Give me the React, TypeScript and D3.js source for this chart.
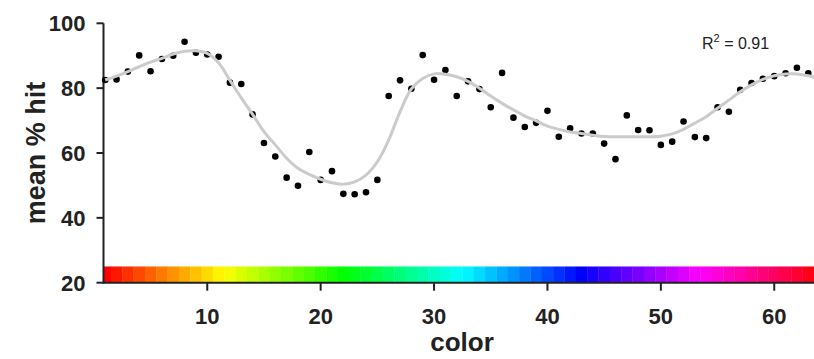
import React from 'react';
import * as d3 from 'd3';

// color index categories (1..64) shown in the hue strip
const colorIndex = [
  1, 2, 3, 4, 5, 6, 7, 8, 9, 10, 11, 12, 13, 14, 15, 16, 17, 18, 19, 20, 21, 22, 23, 24, 25, 26, 27, 28, 29, 30, 31, 32,
  33, 34, 35, 36, 37, 38, 39, 40, 41, 42, 43, 44, 45, 46, 47, 48, 49, 50, 51, 52, 53, 54, 55, 56, 57, 58, 59, 60, 61, 62, 63, 64,
];

// mean % hit per color (colors 1..63)
const hitValues = [
  82.5, 82.7, 85.1, 90.1, 85.2, 89.0, 90.0, 94.3, 90.9, 90.4, 89.7, 81.7, 81.3, 71.9, 63.1, 58.9, 52.4, 49.9, 60.3, 51.7,
  54.4, 47.4, 47.3, 47.9, 51.7, 77.6, 82.4, 79.8, 90.2, 82.6, 85.6, 77.6, 82.1, 79.7, 74.1, 84.7, 70.9, 68.0, 69.3, 73.0,
  65.0, 67.6, 66.0, 66.0, 62.9, 58.1, 71.6, 67.1, 67.0, 62.5, 63.5, 69.7, 64.9, 64.6, 74.1, 72.7, 79.5, 81.6, 82.9, 83.7,
  84.6, 86.3, 84.6,
];

// fitted curve value per color (colors 1..64)
const fitValues = [
  82.5, 83.7, 85.1, 86.6, 88.0, 89.2, 90.5, 91.4, 91.5, 90.7, 87.8, 82.4, 77.0, 71.9, 66.6, 62.5, 58.4, 55.3, 53.4, 51.9,
  50.8, 50.4, 51.1, 53.2, 57.3, 64.0, 72.7, 79.8, 83.0, 84.4, 84.3, 83.5, 82.1, 80.0, 77.6, 75.3, 73.3, 71.4, 69.9, 68.3,
  67.3, 66.5, 66.0, 65.5, 65.1, 65.0, 65.0, 65.0, 65.0, 65.2, 65.9, 67.3, 69.2, 71.2, 73.8, 76.3, 78.9, 81.0, 82.7, 83.8,
  84.4, 84.4, 83.8, 83.0,
];

const xTicks = [10, 20, 30, 40, 50, 60];
const yTicks = [20, 40, 60, 80, 100];
const r2Value = '0.91';
const xTitle = 'color';
const yTitle = 'mean % hit';

const W = 814;
const H = 359;
const FONT = "Arial, 'Liberation Sans', Helvetica, sans-serif";

export default function App() {
  const x = d3.scaleLinear().domain([0.85, 64]).range([103.5, 819.6]);
  const y = d3.scaleLinear().domain([20, 100]).range([282.7, 23.3]);
  const axisX = x(0.85);
  const axisY = y(20);

  const line = d3
    .line<number>()
    .x((_, i) => x(i + 1))
    .y((d) => y(d))
    .curve(d3.curveCatmullRom.alpha(0.5));

  const hue = d3.scaleLinear().domain([1, 64]).range([0, 360]);

  return (
    <svg
      width={W}
      height={H}
      style={{ position: 'absolute', left: 0, top: 0, background: '#fff' }}
      fontFamily={FONT}
    >
      {/* hue strip */}
      {colorIndex.map((c) => {
        const x0 = Math.max(x(c - 0.5), axisX);
        const x1 = x(c + 0.5);
        return (
          <rect
            key={c}
            x={x0}
            y={y(25)}
            width={Math.max(0, x1 - x0 + 0.3)}
            height={y(20) - y(25)}
            fill={d3.hsl(hue(c), 1, 0.5).toString()}
          />
        );
      })}

      {/* axes */}
      <line x1={axisX} x2={W} y1={axisY} y2={axisY} stroke="#222" strokeWidth={2} />
      <line x1={axisX} x2={axisX} y1={y(100)} y2={axisY + 1} stroke="#222" strokeWidth={2} />
      {yTicks.map((t) => (
        <g key={t}>
          <line x1={axisX - 7} x2={axisX} y1={y(t)} y2={y(t)} stroke="#222" strokeWidth={2} />
          <text
            x={axisX - 18}
            y={y(t)}
            dy="0.36em"
            textAnchor="end"
            fontSize={22}
            fontWeight="bold"
            fill="#222"
          >
            {t}
          </text>
        </g>
      ))}
      {xTicks.map((t) => (
        <g key={t}>
          <line x1={x(t)} x2={x(t)} y1={axisY} y2={axisY + 8} stroke="#222" strokeWidth={2} />
          <text x={x(t)} y={324} textAnchor="middle" fontSize={22} fontWeight="bold" fill="#222">
            {t}
          </text>
        </g>
      ))}

      {/* points */}
      {hitValues.map((v, i) => (
        <circle key={i} cx={x(i + 1)} cy={y(v)} r={3.3} fill="#000" />
      ))}

      {/* fit curve */}
      <path d={line(fitValues) || ''} fill="none" stroke="#cbcbcb" strokeWidth={3} />

      {/* titles */}
      <text
        transform={`translate(45, ${(y(100) + y(20)) / 2}) rotate(-90)`}
        textAnchor="middle"
        fontSize={27}
        fontWeight="bold"
        fill="#222"
      >
        {yTitle}
      </text>
      <text x={462} y={351} textAnchor="middle" fontSize={26} fontWeight="bold" fill="#222">
        {xTitle}
      </text>

      {/* R squared */}
      <text x={702} y={49} fontSize={16} fill="#222">
        <tspan>R</tspan>
        <tspan dy={-7} fontSize={11}>
          2
        </tspan>
        <tspan dy={7}>{` = ${r2Value}`}</tspan>
      </text>
    </svg>
  );
}
